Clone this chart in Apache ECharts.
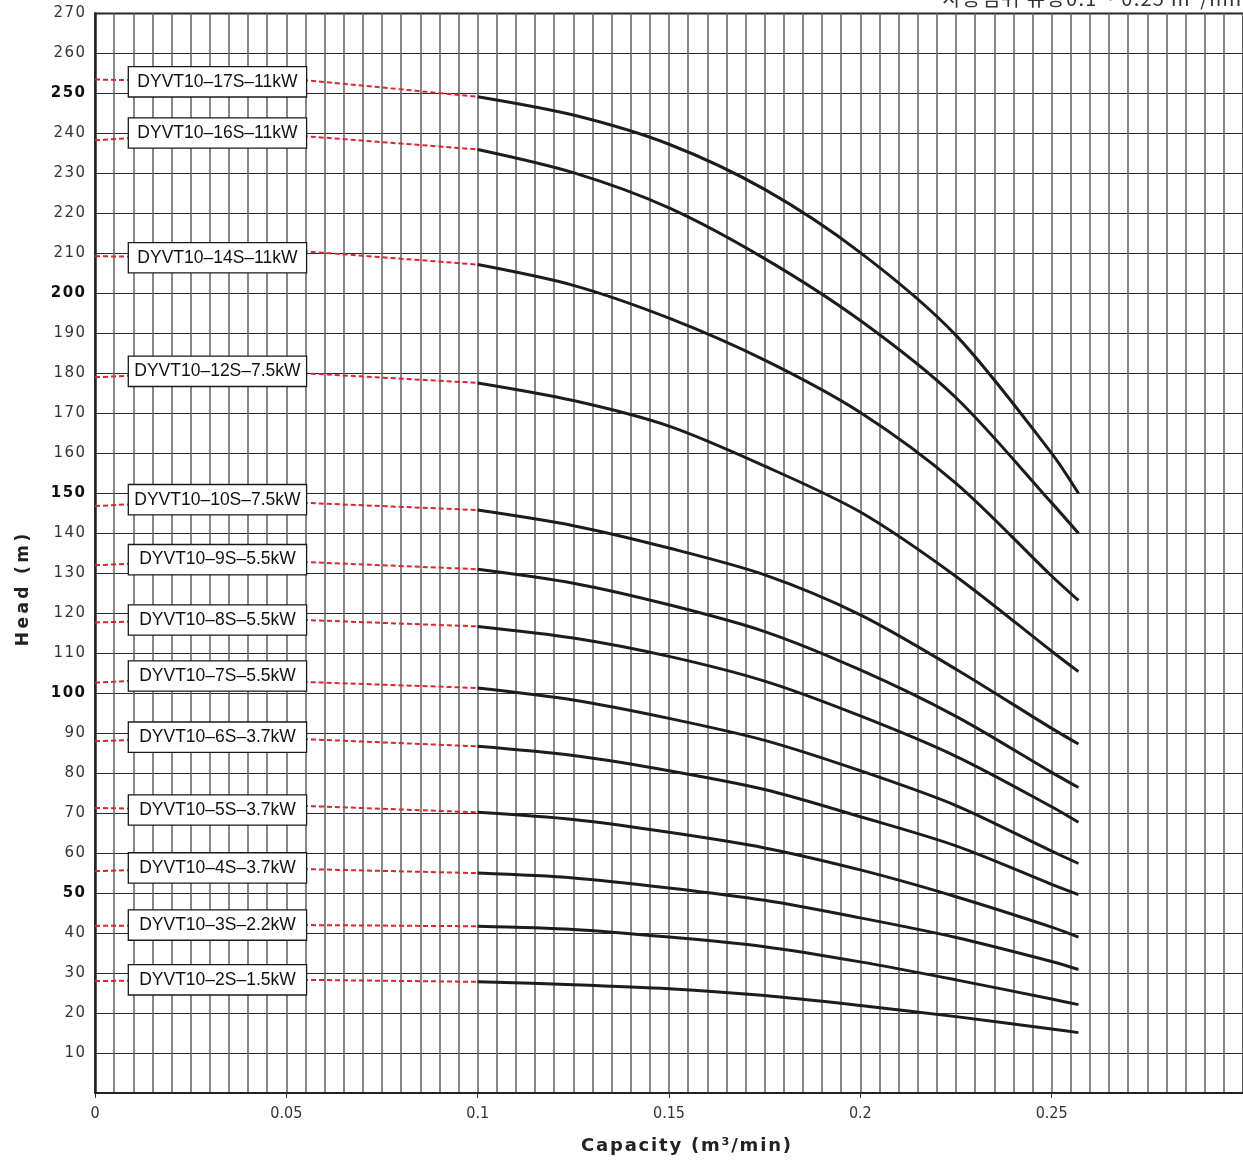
<!DOCTYPE html>
<html>
<head>
<meta charset="utf-8">
<script src="https://cdn.jsdelivr.net/npm/echarts@6.0.0/dist/echarts.min.js"></script>
<style>
    html, body { margin: 0; padding: 0; background: #fff; }
    #chart { width: 1243px; height: 1162px; }
</style>
</head>
<body>
<div id="chart"></div>
<script>
// 모델명
var models = [
    'DYVT10–17S–11kW', 'DYVT10–16S–11kW', 'DYVT10–14S–11kW', 'DYVT10–12S–7.5kW',
    'DYVT10–10S–7.5kW', 'DYVT10–9S–5.5kW', 'DYVT10–8S–5.5kW', 'DYVT10–7S–5.5kW',
    'DYVT10–6S–3.7kW', 'DYVT10–5S–3.7kW', 'DYVT10–4S–3.7kW', 'DYVT10–3S–2.2kW',
    'DYVT10–2S–1.5kW'
];

// 사용범위 곡선 (유량 m3/min)
var capacity = [0.1, 0.125, 0.15, 0.175, 0.2, 0.225, 0.25, 0.257];
var headValues = [
    [249.2, 244.6, 237.3, 226.0, 210.2, 189.5, 160.0, 150.0], // 17S
    [236.0, 230.2, 221.4, 208.7, 193.2, 173.9, 147.6, 140.0], // 16S
    [207.2, 202.0, 193.8, 183.3, 170.2, 152.5, 129.3, 123.2], // 14S
    [177.6, 173.2, 166.8, 156.8, 145.3, 129.2, 110.5, 105.4], // 12S
    [145.8, 141.9, 136.3, 129.6, 119.6, 106.0, 91.2, 87.3],   // 10S
    [131.0, 127.5, 122.1, 115.4, 105.8, 94.2, 80.2, 76.4],    // 9S
    [116.7, 113.8, 109.2, 103.0, 94.3, 84.2, 71.6, 67.7],     // 8S
    [101.3, 98.3, 93.7, 88.2, 80.6, 71.9, 60.5, 57.4],        // 7S
    [86.7, 84.4, 80.6, 75.9, 69.1, 61.8, 52.2, 49.6],         // 6S
    [70.2, 68.4, 65.2, 61.3, 55.8, 49.1, 41.5, 39.0],         // 5S
    [55.0, 53.8, 51.3, 48.2, 43.8, 38.9, 32.9, 30.9],         // 4S
    [41.7, 40.9, 39.0, 36.6, 32.8, 28.3, 23.5, 22.1],         // 3S
    [27.8, 27.1, 26.1, 24.4, 21.9, 19.1, 16.0, 15.1]          // 2S
];

// 0 ~ 0.1 구간 점선 (두번째 값 위치에 모델명 박스)
var dashCapacity = [0, 0.032, 0.055, 0.1];
var dashHeads = [
    [253.5, 252.9, 253.3, 249.2],
    [238.3, 240.1, 239.3, 236.0],
    [209.3, 208.9, 210.5, 207.2],
    [179.0, 180.5, 180.0, 177.6],
    [146.8, 148.4, 147.6, 145.8],
    [132.0, 133.4, 132.8, 131.0],
    [117.7, 118.3, 118.3, 116.7],
    [102.6, 104.3, 102.8, 101.3],
    [88.0, 89.0, 88.5, 86.7],
    [71.3, 70.8, 71.8, 70.2],
    [55.5, 56.3, 56.0, 55.0],
    [41.8, 42.0, 42.0, 41.7],
    [28.0, 28.3, 28.3, 27.8]
];

var xTicks = { min: 0, max: 0.3, interval: 0.05 };
var yTicks = { min: 0, max: 270, interval: 10 };

var HS = '\u200A';
var chart = echarts.init(document.getElementById('chart'));

var series = [];
models.forEach(function (name, i) {
    //점선 연장
    series.push({
        name: name + ' ext',
        type: 'line',
        data: dashCapacity.map(function (q, j) { return [q, dashHeads[i][j]]; }),
        symbol: 'none',
        silent: true,
        lineStyle: { color: '#e8202a', width: 2, type: [5, 3] },
        z: 3
    });
    series.push({
        name: name,
        type: 'line',
        smooth: 0.3,
        data: capacity.map(function (q, j) { return [q, headValues[i][j]]; }),
        symbol: 'none',
        lineStyle: { color: '#1c1c1c', width: 3 },
        z: 4
    });
});

//모델명 박스
series.push({
    type: 'scatter',
    data: models.map(function (name, i) {
        return { name: name, value: [dashCapacity[1], dashHeads[i][1]] };
    }),
    symbol: 'circle',
    symbolSize: 1,
    itemStyle: { color: 'rgba(255,255,255,0)' },
    label: {
        show: true,
        position: 'inside',
        formatter: function (p) { return p.name; },
        width: 177,
        height: 19,
        lineHeight: 19,
        align: 'center',
        verticalAlign: 'middle',
        padding: [6, 0, 4, 0],
        backgroundColor: '#fff',
        borderColor: '#1a1a1a',
        borderWidth: 1.3,
        color: '#111',
        textBorderWidth: 0,
        textBorderColor: 'transparent',
        opacity: 1,
        fontSize: 17.5,
        fontFamily: 'Liberation Sans, Arial, sans-serif'
    },
    silent: true,
    z: 6
});

var option = {
    animation: false,
    backgroundColor: '#fff',
    grid: {
        left: 95,
        right: -3,
        top: 13.5,
        bottom: 69,
        show: true,
        borderColor: '#222',
        borderWidth: 2
    },
    xAxis: {
        type: 'value',
        min: xTicks.min,
        max: xTicks.max,
        interval: xTicks.interval,
        axisLine: { show: true, lineStyle: { color: '#222', width: 2 } },
        axisTick: { show: true, length: 5, inside: false, lineStyle: { color: '#333' } },
        axisLabel: {
            showMaxLabel: false,
            margin: 13,
            color: '#333',
            fontSize: 16,
            fontFamily: 'Liberation Sans Narrow, DejaVu Sans Condensed, sans-serif'
        },
        splitLine: { show: true, lineStyle: { color: '#6a6a6a', width: 1.6 } },
        minorTick: { show: false, splitNumber: 10 },
        minorSplitLine: { show: true, lineStyle: { color: '#6a6a6a', width: 1.6 } }
    },
    yAxis: {
        type: 'value',
        min: yTicks.min,
        max: yTicks.max,
        interval: yTicks.interval,
        axisLine: { show: true, lineStyle: { color: '#222', width: 2.5 } },
        axisTick: { show: false },
        axisLabel: {
            showMinLabel: false,
            margin: 10,
            color: '#333',
            fontSize: 15,
            fontFamily: 'DejaVu Sans, sans-serif',
            formatter: function (v) {
                var t = String(v).split('').join(HS);
                return v % 50 === 0 ? '{b|' + t + '}' : t;
            },
            rich: {
                b: { fontWeight: 'bold', color: '#111', fontSize: 15, fontFamily: 'DejaVu Sans, sans-serif' }
            }
        },
        splitLine: { show: true, lineStyle: { color: '#2a2a2a', width: 1 } }
    },
    graphic: [
        {
            type: 'text',
            x: 1248,
            y: 8,
            style: {
                text: '사용범위 유량0.1 ~ 0.25 m³/min'.split('').join(HS),
                align: 'right',
                verticalAlign: 'bottom',
                fontSize: 20,
                fontFamily: 'Noto Sans CJK KR, sans-serif',
                fill: '#333'
            }
        },
        {
            type: 'text',
            x: 24,
            y: 590,
            rotation: Math.PI / 2,
            style: {
                text: 'Head (m)'.split('').join('\u2009'),
                align: 'center',
                verticalAlign: 'middle',
                fontSize: 17,
                fontWeight: 'bold',
                fontFamily: 'DejaVu Sans, sans-serif',
                fill: '#222'
            }
        },
        {
            type: 'text',
            x: 686,
            y: 1146,
            style: {
                text: 'Capacity (m³/min)'.split('').join(HS),
                align: 'center',
                verticalAlign: 'middle',
                fontSize: 18,
                fontWeight: 'bold',
                fontFamily: 'DejaVu Sans, sans-serif',
                fill: '#222'
            }
        }
    ],
    series: series
};

chart.setOption(option);
</script>
</body>
</html>
